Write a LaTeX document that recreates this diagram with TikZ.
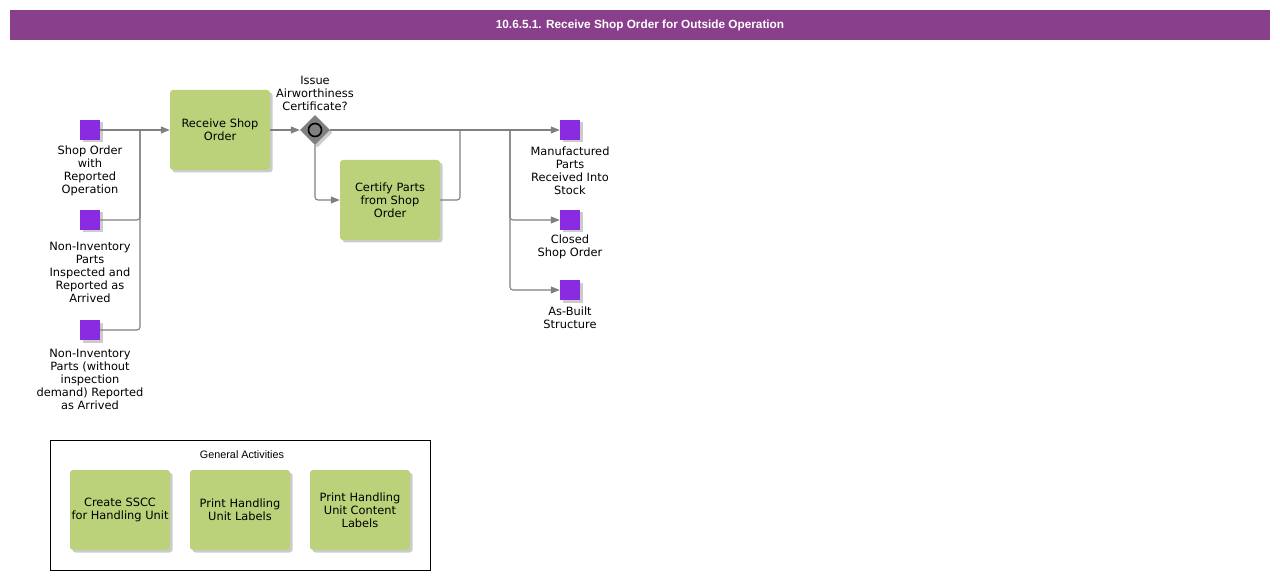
\documentclass[tikz,border=0pt]{standalone}
\usepackage{fontspec}
\setmainfont{DejaVu Sans}
\newfontfamily\arialf{Liberation Sans}
\usetikzlibrary{shapes.geometric,arrows.meta,shadows}
\definecolor{titlebar}{RGB}{137,63,140}
\definecolor{evpurple}{RGB}{138,43,226}
\definecolor{taskgreen}{RGB}{188,210,122}
\definecolor{linegray}{RGB}{128,128,128}
\definecolor{shadowgray}{RGB}{170,170,170}
\tikzset{
  x=1pt, y=-1pt,
  shad/.style={drop shadow={shadow xshift=2.5pt, shadow yshift=-2.5pt, fill=shadowgray, opacity=0.6}},
  task/.style={rectangle, rounded corners=3pt, fill=taskgreen, minimum width=100pt, minimum height=80pt, align=center, font=\fontsize{11.4}{13}\selectfont, inner sep=1pt, shad},
  evt/.style={rectangle, fill=evpurple, minimum size=20pt, inner sep=0pt, shad},
  lbl/.style={align=center, font=\fontsize{11.4}{13}\selectfont, inner sep=0pt, anchor=north},
  gate/.style={diamond, fill=linegray, minimum size=30pt, inner sep=0pt, shad},
  line/.style={draw=linegray, line width=1.1pt, rounded corners=3pt},
  flow/.style={line, -{Triangle[length=9pt,width=7pt]}},
}
\begin{document}
\begin{tikzpicture}
\useasboundingbox (0,0) rectangle (1280,580);
% title bar
\node[fill=titlebar, minimum width=1260pt, minimum height=30pt, inner sep=0pt, text=white, font=\arialf\bfseries\fontsize{11.8}{14}\selectfont] (title) at (640,25) {10.6.5.1. Receive Shop Order for Outside Operation};

% events (inputs)
\node[evt] (e1) at (90,130) {};
\node[evt] (e2) at (90,220) {};
\node[evt] (e3) at (90,330) {};
\node[lbl] (l1) at (90,145.5) {Shop Order\\with\\Reported\\Operation};
\node[lbl] (l2) at (90,241.5) {Non-Inventory\\Parts\\Inspected and\\Reported as\\Arrived};
\node[lbl] (l3) at (90,348.5) {Non-Inventory\\Parts (without\\inspection\\demand) Reported\\as Arrived};

% tasks
\node[task] (rso) at (220,130) {Receive Shop\\Order};
\node[task] (cp) at (390,200) {Certify Parts\\from Shop\\Order};

% gateway
\node[gate] (gw) at (315,130) {};
\node[circle, draw=black, line width=1.6pt, fill=linegray, minimum size=13pt, inner sep=0pt] (gwc) at (gw) {};
\node[lbl] (gwl) at (315,75.5) {Issue\\Airworthiness\\Certificate?};

% outputs
\node[evt] (o1) at (570,130) {};
\node[evt] (o2) at (570,220) {};
\node[evt] (o3) at (570,290) {};
\node[lbl] (ol1) at (570,146.5) {Manufactured\\Parts\\Received Into\\Stock};
\node[lbl] (ol2) at (570,234.5) {Closed\\Shop Order};
\node[lbl] (ol3) at (570,306.5) {As-Built\\Structure};

% junctions
\coordinate (j1) at (140,130);
\coordinate (j2) at (460,130);
\coordinate (j3) at (510,130);

% connectors
\draw[flow] (e1.east) -- (rso.west);
\draw[line] (e2.east) -| (j1);
\draw[line] (e3.east) -| (j1);
\draw[flow] (rso.east) -- (gw.west);
\draw[flow] (gw.east) -- (o1.west);
\draw[flow] (gw.south) |- (cp.west);
\draw[line] (cp.east) -| (j2);
\draw[flow] (j3) |- (o2.west);
\draw[flow] (j3) |- (o3.west);

% general activities
\node[draw=black, line width=0.9pt, minimum width=380pt, minimum height=130pt, inner sep=0pt] (ga) at (240,505) {};
\node[font=\arialf\fontsize{10.8}{12}\selectfont, inner sep=0pt] (gat) at (242,455) {General Activities};
\node[task] (t1) at (120,510) {Create SSCC\\for Handling Unit};
\node[task] (t2) at (240,510) {Print Handling\\Unit Labels};
\node[task] (t3) at (360,510) {Print Handling\\Unit Content\\Labels};
\end{tikzpicture}
\end{document}
